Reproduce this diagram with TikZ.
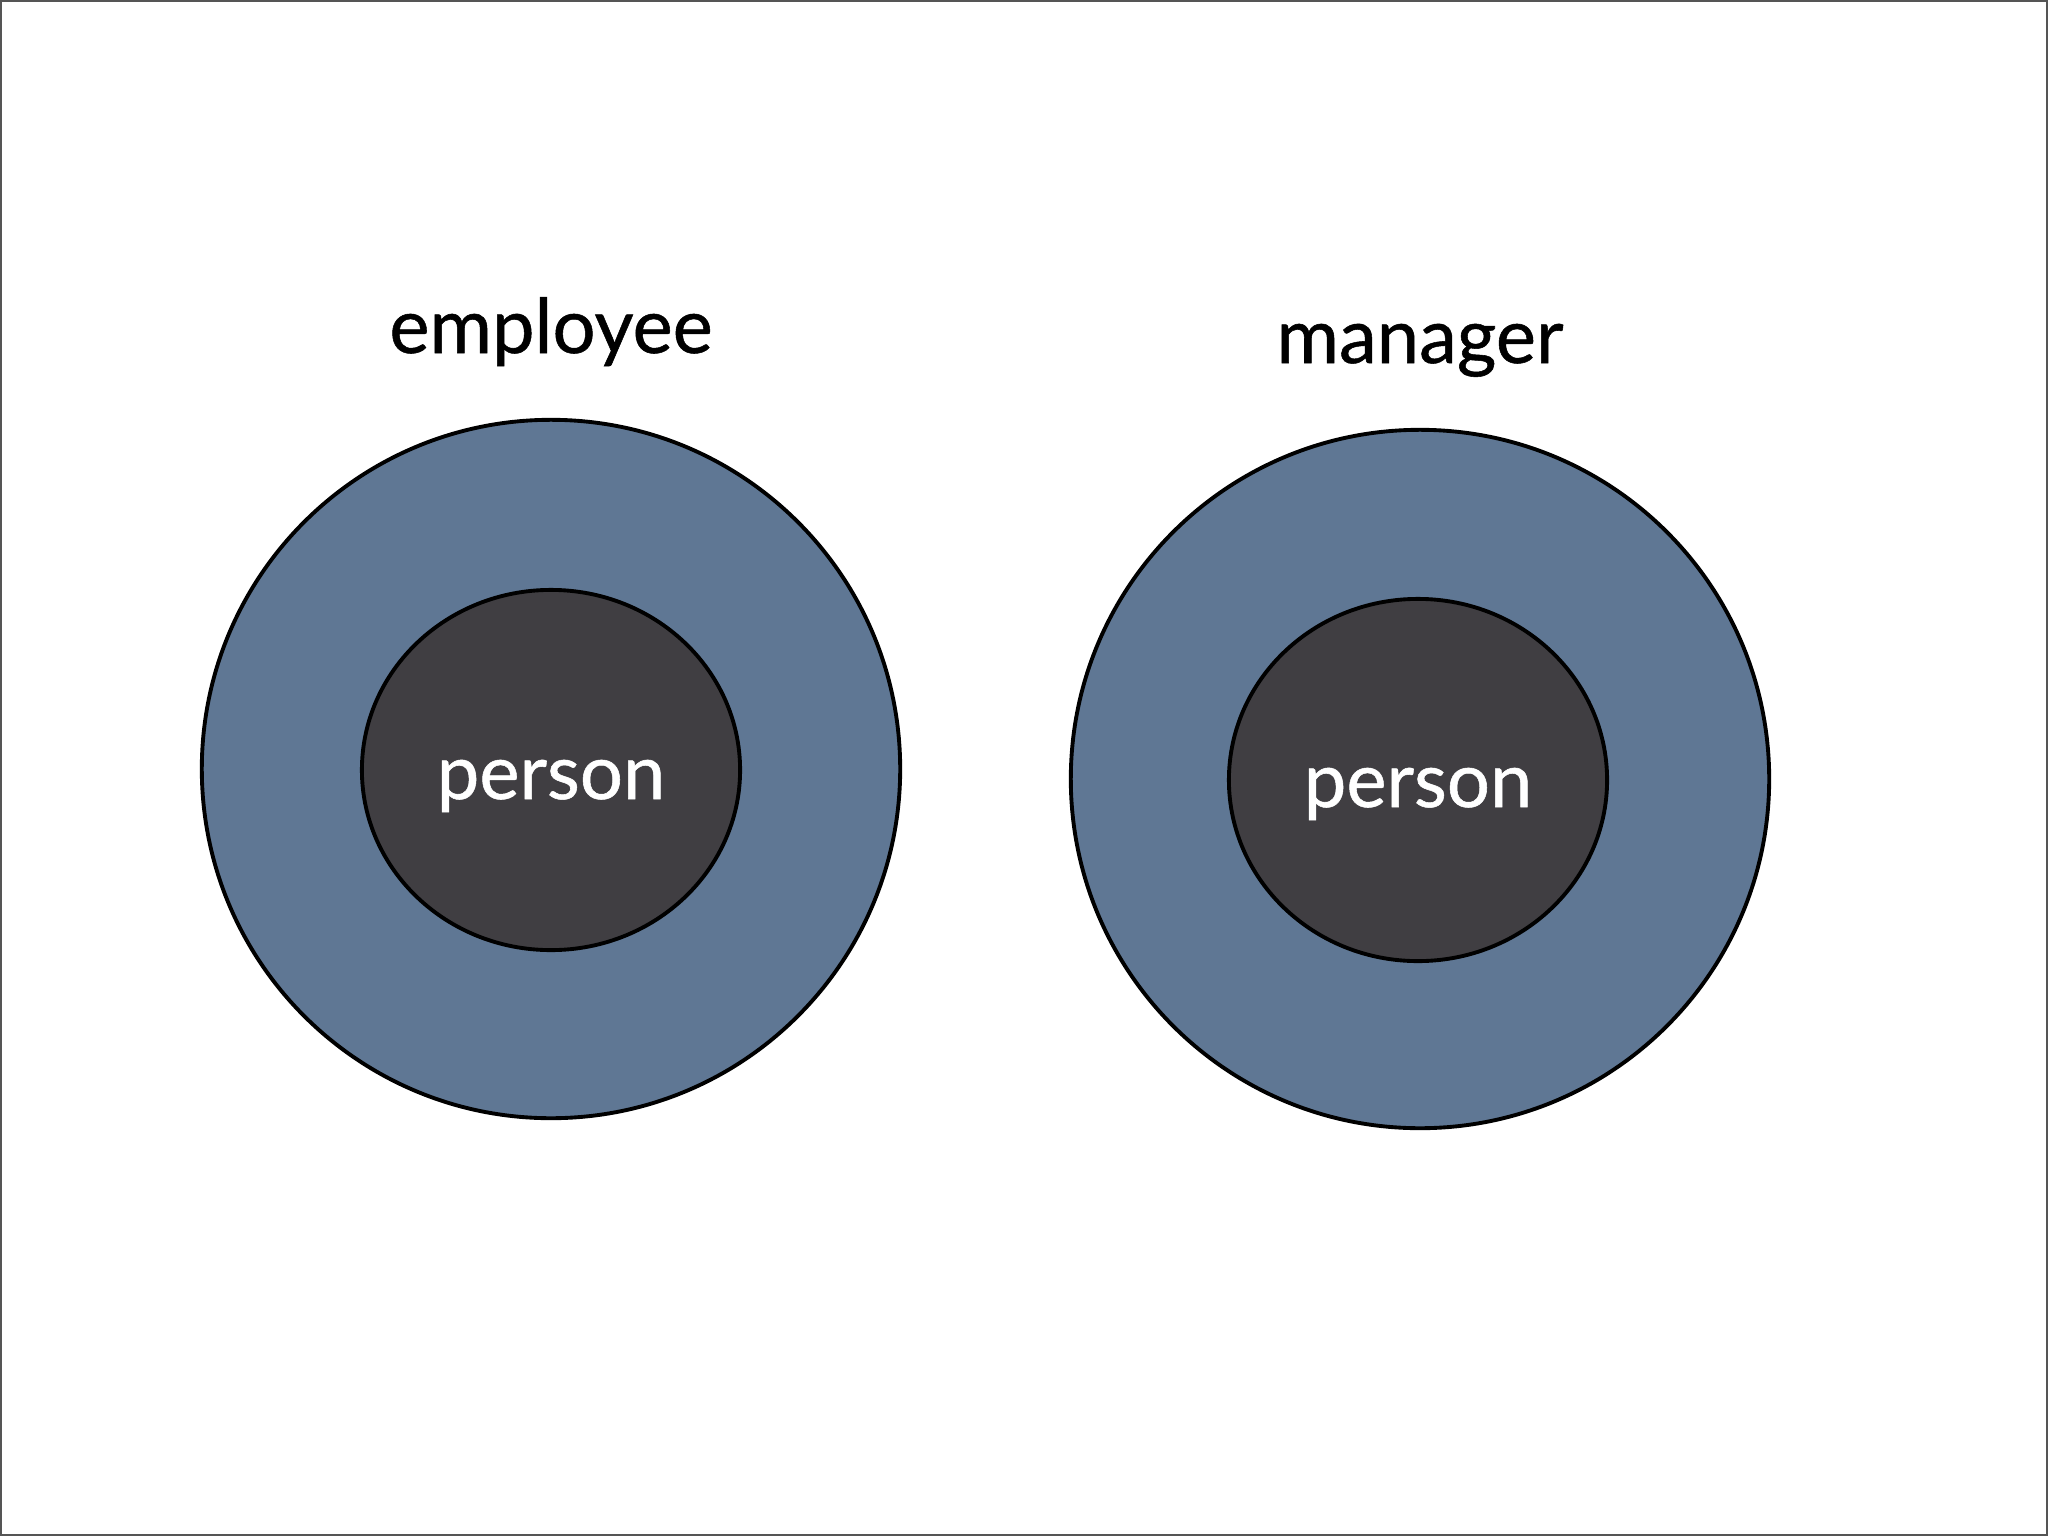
\documentclass[tikz,border=0pt]{standalone}
\usepackage{fontspec}
\setmainfont{Lato}[FakeBold=0.7]
\usetikzlibrary{shapes.geometric}
\definecolor{ringblue}{HTML}{5F7794}
\definecolor{coregray}{HTML}{403E42}
\definecolor{framegray}{HTML}{555555}

\begin{document}
\begin{tikzpicture}[x=0.01cm, y=-0.01cm,
    every node/.style={font=\fontsize{21.6}{25}\selectfont},
    ring/.style={circle, draw=black, line width=1.1pt, fill=ringblue, minimum size=6.98cm, inner sep=0pt},
    core/.style={ellipse, draw=black, line width=1.1pt, fill=coregray, minimum width=3.78cm, minimum height=3.6cm, inner sep=0pt},
    caption/.style={anchor=base, text=black},
    corelabel/.style={anchor=base, text=white}]

  % page and its thin frame
  \useasboundingbox (0,0) rectangle (2048,1536);
  \draw[framegray, line width=0.45pt, fill=white] (0.8,0.8) rectangle (2047.2,1535.2);

  % employee wraps a person
  \node[ring] (employee ring) at (551,769) {};
  \node[core] (employee core) at (551,770) {};
  \node[caption] (employee label) at (551,353) {employee};
  \node[corelabel] (employee person) at (551,799) {person};

  % manager wraps a person
  \node[ring] (manager ring) at (1420,779) {};
  \node[core, minimum height=3.62cm] (manager core) at (1418,780) {};
  \node[caption] (manager label) at (1420,363) {manager};
  \node[corelabel] (manager person) at (1418,807) {person};
\end{tikzpicture}
\end{document}
